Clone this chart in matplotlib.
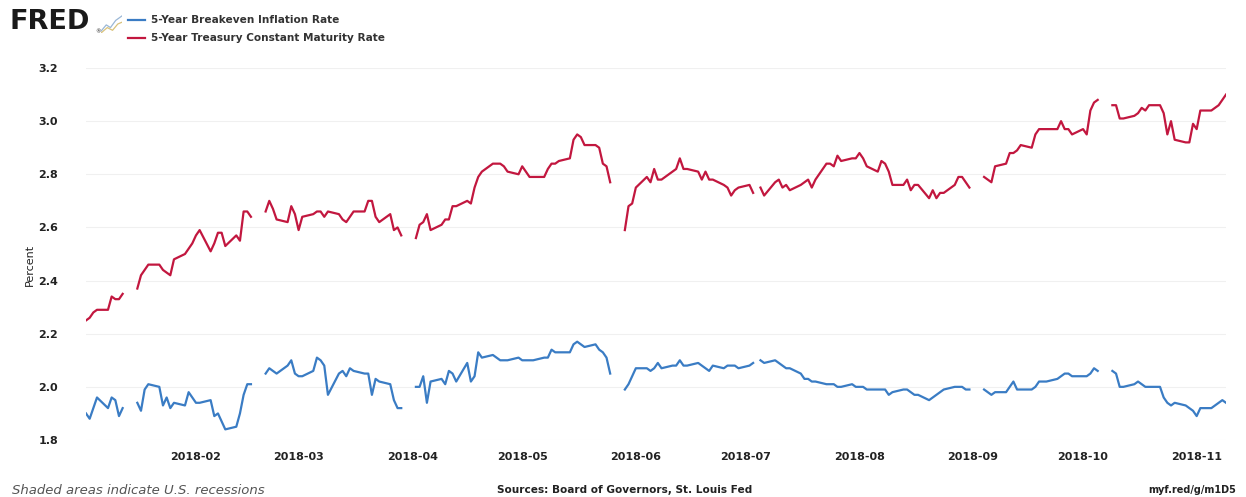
import numpy as np
import pandas as pd
import matplotlib.pyplot as plt
import matplotlib.dates as mdates

first_day = '2018-01-02'
last_day = '2018-11-09'

# 5-Year Breakeven Inflation Rate, one value per business day (None = market closed)
breakeven_jan = [1.90, 1.88, 1.92, 1.96, 1.92, 1.96, 1.95, 1.89, 1.92, None, 1.94, 1.91, 1.99, 2.01,
                 2.00, 1.93, 1.96, 1.92, 1.94, 1.93, 1.98, 1.96]
breakeven_feb = [1.94, 1.94, 1.95, 1.89, 1.90, 1.87, 1.84, 1.85, 1.90, 1.97, 2.01, 2.01, None, 2.05,
                 2.07, 2.06, 2.05, 2.08, 2.10, 2.05]
breakeven_mar = [2.04, 2.04, 2.06, 2.11, 2.10, 2.08, 1.97, 2.05, 2.06, 2.04, 2.07, 2.06, 2.05, 2.05,
                 1.97, 2.03, 2.02, 2.01, 1.95, 1.92, 1.92, None]
breakeven_apr = [2.00, 2.00, 2.04, 1.94, 2.02, 2.03, 2.01, 2.06, 2.05, 2.02, 2.09, 2.02, 2.04, 2.13,
                 2.11, 2.12, 2.11, 2.10, 2.10, 2.10, 2.11]
breakeven_may = [2.10, 2.10, 2.10, 2.10, 2.11, 2.11, 2.14, 2.13, 2.13, 2.13, 2.16, 2.17, 2.16, 2.15,
                 2.16, 2.14, 2.13, 2.11, 2.05, None, 1.99, 2.01, 2.04]
breakeven_jun = [2.07, 2.07, 2.06, 2.07, 2.09, 2.07, 2.08, 2.08, 2.10, 2.08, 2.08, 2.09, 2.08, 2.07,
                 2.06, 2.08, 2.07, 2.08, 2.08, 2.08, 2.07]
breakeven_jul = [2.08, 2.09, None, 2.10, 2.09, 2.10, 2.09, 2.08, 2.07, 2.07, 2.05, 2.03, 2.03, 2.02,
                 2.02, 2.01, 2.01, 2.01, 2.00, 2.00, 2.01, 2.00]
breakeven_aug = [2.00, 2.00, 1.99, 1.99, 1.99, 1.99, 1.97, 1.98, 1.99, 1.99, 1.98, 1.97, 1.97, 1.95,
                 1.96, 1.97, 1.98, 1.99, 2.00, 2.00, 2.00, 1.99, 1.99]
breakeven_sep = [None, 1.99, 1.98, 1.97, 1.98, 1.98, 2.00, 2.02, 1.99, 1.99, 1.99, 2.00, 2.02, 2.02,
                 2.02, 2.03, 2.04, 2.05, 2.05, 2.04]
breakeven_oct = [2.04, 2.04, 2.05, 2.07, 2.06, None, 2.06, 2.05, 2.00, 2.00, 2.01, 2.02, 2.01, 2.00,
                 2.00, 2.00, 1.96, 1.94, 1.93, 1.94, 1.93, 1.92, 1.91]
breakeven_nov = [1.89, 1.92, 1.92, 1.93, 1.94, 1.95, 1.94]

# 5-Year Treasury Constant Maturity Rate
treasury_jan = [2.25, 2.26, 2.28, 2.29, 2.29, 2.34, 2.33, 2.33, 2.35, None, 2.37, 2.42, 2.44, 2.46,
                2.46, 2.44, 2.43, 2.42, 2.48, 2.50, 2.52, 2.54]
treasury_feb = [2.57, 2.59, 2.51, 2.54, 2.58, 2.58, 2.53, 2.57, 2.55, 2.66, 2.66, 2.64, None, 2.66,
                2.70, 2.67, 2.63, 2.62, 2.68, 2.65]
treasury_mar = [2.59, 2.64, 2.65, 2.66, 2.66, 2.64, 2.66, 2.65, 2.63, 2.62, 2.64, 2.66, 2.66, 2.70,
                2.70, 2.64, 2.62, 2.65, 2.59, 2.60, 2.57, None]
treasury_apr = [2.56, 2.61, 2.62, 2.65, 2.59, 2.61, 2.63, 2.63, 2.68, 2.68, 2.70, 2.69, 2.75, 2.79,
                2.81, 2.84, 2.84, 2.84, 2.83, 2.81, 2.80]
treasury_may = [2.83, 2.81, 2.79, 2.79, 2.79, 2.82, 2.84, 2.84, 2.85, 2.86, 2.93, 2.95, 2.94, 2.91,
                2.91, 2.90, 2.84, 2.83, 2.77, None, 2.59, 2.68, 2.69]
treasury_jun = [2.75, 2.79, 2.77, 2.82, 2.78, 2.78, 2.81, 2.82, 2.86, 2.82, 2.82, 2.81, 2.78, 2.81,
                2.78, 2.78, 2.76, 2.75, 2.72, 2.74, 2.75]
treasury_jul = [2.76, 2.73, None, 2.75, 2.72, 2.77, 2.78, 2.75, 2.76, 2.74, 2.76, 2.77, 2.78, 2.75,
                2.78, 2.84, 2.84, 2.83, 2.87, 2.85, 2.86, 2.86]
treasury_aug = [2.88, 2.86, 2.83, 2.81, 2.85, 2.84, 2.81, 2.76, 2.76, 2.78, 2.74, 2.76, 2.76, 2.71,
                2.74, 2.71, 2.73, 2.73, 2.76, 2.79, 2.79, 2.77, 2.75]
treasury_sep = [None, 2.79, 2.78, 2.77, 2.83, 2.84, 2.88, 2.88, 2.89, 2.91, 2.90, 2.95, 2.97, 2.97,
                2.97, 2.97, 3.00, 2.97, 2.97, 2.95]
treasury_oct = [2.97, 2.95, 3.04, 3.07, 3.08, None, 3.06, 3.06, 3.01, 3.01, 3.02, 3.03, 3.05, 3.04,
                3.06, 3.06, 3.03, 2.95, 3.00, 2.93, 2.92, 2.92, 2.99]
treasury_nov = [2.97, 3.04, 3.04, 3.05, 3.06, 3.08, 3.10]

y_ticks = [1.8, 2.0, 2.2, 2.4, 2.6, 2.8, 3.0, 3.2]

BLUE = '#3a7cc4'
RED = '#c2173f'
TEXT = '#222222'


def to_series(parts):
    vals = []
    for p in parts:
        vals += [np.nan if v is None else v for v in p]
    return np.array(vals, dtype=float)


dates = pd.bdate_range(first_day, last_day)
breakeven = to_series([breakeven_jan, breakeven_feb, breakeven_mar, breakeven_apr, breakeven_may,
                       breakeven_jun, breakeven_jul, breakeven_aug, breakeven_sep, breakeven_oct,
                       breakeven_nov])
treasury = to_series([treasury_jan, treasury_feb, treasury_mar, treasury_apr, treasury_may,
                      treasury_jun, treasury_jul, treasury_aug, treasury_sep, treasury_oct,
                      treasury_nov])

W, H = 1246, 497
fig = plt.figure(figsize=(W / 100, H / 100), dpi=100)
ax = fig.add_axes([86 / W, 57 / H, 1140 / W, 372 / H])

ax.plot(dates, breakeven, color=BLUE, lw=1.6, solid_joinstyle='round')
ax.plot(dates, treasury, color=RED, lw=1.6, solid_joinstyle='round')

ax.set_xlim(dates[0], dates[-1])
ax.set_ylim(1.8, 3.2)
ax.set_yticks(y_ticks)
ax.set_yticklabels([f'{t:.1f}' for t in y_ticks])
ax.xaxis.set_major_locator(mdates.MonthLocator(bymonth=range(2, 12)))
ax.xaxis.set_major_formatter(mdates.DateFormatter('%Y-%m'))
ax.tick_params(axis='y', length=0, pad=20, labelsize=8, labelcolor=TEXT)
ax.tick_params(axis='x', length=0, pad=9, labelsize=8, labelcolor=TEXT)
for lab in ax.get_xticklabels() + ax.get_yticklabels():
    lab.set_fontweight('bold')
for s in ax.spines.values():
    s.set_visible(False)
ax.grid(axis='y', color='#f0f0f0', lw=0.8)
ax.set_axisbelow(True)

fig.text(30 / W, 1 - 265 / H, 'Percent', rotation=90, ha='center', va='center',
         fontsize=8, color=TEXT)

# header: logo + legend
fig.text(10 / W, 1 - 22 / H, 'FRED', fontsize=19.5, fontweight='heavy', color='#1a1a1a',
         ha='left', va='center')
fig.text(95 / W, 1 - 32 / H, '®', fontsize=4, color='#1a1a1a', ha='left', va='center')
icon = fig.add_axes([101 / W, 1 - 33 / H, 21 / W, 18 / H])
icon.plot([0, 0.25, 0.45, 0.7, 1.0], [0.1, 0.45, 0.3, 0.7, 0.95], color='#9ab7d6', lw=0.9)
icon.plot([0, 0.3, 0.55, 0.8, 1.0], [0.0, 0.3, 0.15, 0.5, 0.6], color='#d9c27a', lw=0.9)
icon.set_xlim(0, 1)
icon.set_ylim(0, 1)
icon.axis('off')

for yy, col, label in [(20, BLUE, '5-Year Breakeven Inflation Rate'),
                       (38, RED, '5-Year Treasury Constant Maturity Rate')]:
    fig.add_artist(plt.Line2D([128 / W, 145 / W], [1 - yy / H, 1 - yy / H], color=col, lw=1.6))
    fig.text(151 / W, 1 - yy / H, label, fontsize=7.6, fontweight='bold', color='#333333',
             ha='left', va='center')

# footer
fig.text(12 / W, 1 - 490 / H, 'Shaded areas indicate U.S. recessions', fontsize=9.5,
         style='italic', color='#555555', ha='left', va='center')
fig.text(625 / W, 1 - 490 / H, 'Sources: Board of Governors, St. Louis Fed', fontsize=7.6,
         fontweight='bold', color=TEXT, ha='center', va='center')
fig.text(1236 / W, 1 - 490 / H, 'myf.red/g/m1D5', fontsize=7, fontweight='bold', color=TEXT,
         ha='right', va='center')

fig.savefig('out.png', dpi=100)
